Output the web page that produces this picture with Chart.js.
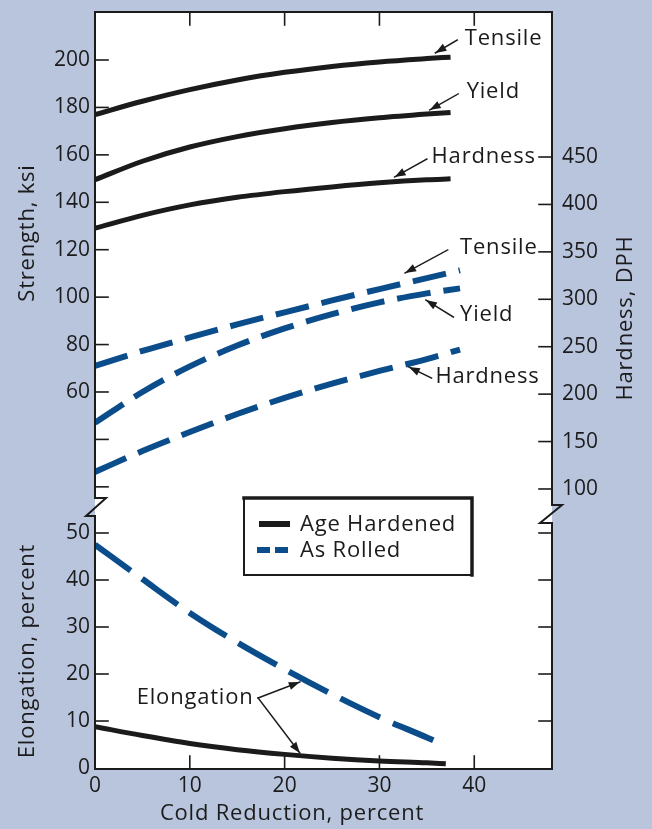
<!DOCTYPE html>
<html>
<head>
<meta charset="utf-8">
<title>Cold Reduction</title>
<script src="https://cdn.jsdelivr.net/npm/chart.js"></script>
<style>
  html, body { margin: 0; padding: 0; background: #b9c5dd; }
  #wrap { width: 652px; height: 829px; }
</style>
</head>
<body>
<div id="wrap"><canvas id="chart" width="652" height="829"></canvas></div>
<script>
// cold reduction, percent
const xAged   = [0, 5, 10, 15, 20, 25, 30, 35, 37.5];
const xRolled = [0, 5, 10, 15, 20, 25, 30, 35, 38.5];
const xElong  = [0, 5, 10, 15, 20, 25, 30, 35, 37];

// age hardened
const agedTensile  = [177, 182.6, 187.5, 191.6, 194.8, 197.3, 199.2, 200.6, 201.2];
const agedYield    = [149.5, 157.3, 163.3, 167.7, 171.0, 173.6, 175.6, 177.2, 177.9];
const agedHardness = [375, 388.5, 399.5, 407.5, 413.5, 418.5, 422.8, 426, 427];
const agedElong    = [8.8, 6.9, 5.2, 3.9, 2.9, 2.1, 1.5, 1.1, 0.9];

// as rolled
const rolledTensile  = [71, 77.3, 83, 88.5, 93.6, 98.6, 103.4, 108, 111.3];
const rolledYield    = [47, 60, 70.8, 79.6, 86.8, 92.8, 97.8, 101.6, 103.7];
const rolledHardness = [118, 140, 160, 179, 196, 211, 224.5, 237, 247];
const rolledElong    = [47.5, 40.2, 33.0, 26.7, 21, 15.7, 10.8, 6.5, 4.7];

// axes
const xTicks        = [0, 10, 20, 30, 40];
const strengthTicks = [20, 40, 60, 80, 100, 120, 140, 160, 180, 200];
const hardnessTicks = [100, 150, 200, 250, 300, 350, 400, 450];
const elongTicks    = [0, 10, 20, 30, 40, 50];
const seriesNames   = ['Age Hardened', 'As Rolled'];

// curve labels with arrows (data units of the named axis)
const notes = [
  { text: 'Tensile',  axis: 'yS', at: [39.0, 208.9], from: [38.2, 208.4], to: [[35.9, 203.0]] },
  { text: 'Yield',    axis: 'yS', at: [39.2, 186.5], from: [38.3, 185.7], to: [[35.3, 178.9]] },
  { text: 'Hardness', axis: 'yH', at: [35.5, 450.0], from: [35.0, 447.9], to: [[31.6, 428.9]] },
  { text: 'Tensile',  axis: 'yS', at: [38.5, 120.7], from: [37.2, 119.9], to: [[32.7, 110.2]] },
  { text: 'Yield',    axis: 'yS', at: [38.5, 92.5],  from: [37.8, 91.6],  to: [[34.9, 98.8]] },
  { text: 'Hardness', axis: 'yH', at: [35.9, 218.1], from: [35.5, 217.0], to: [[33.1, 228.6]] },
  { text: 'Elongation', axis: 'yE', at: [4.4, 14.9], from: [17.2, 14.9], to: [[21.6, 18.3], [21.6, 3.2]] }
];

const INK = '#1b1b1b';
const BLUE = '#0b4d8b';
const BG = '#b9c5dd';
const FONT = '"Open Sans", sans-serif';

function pts(xs, ys) { return xs.map((x, i) => ({ x: x, y: ys[i] })); }

function solid(label, data, axis) {
  return { label: label, data: data, yAxisID: axis, borderColor: INK, borderWidth: 5,
           borderCapStyle: 'butt', cubicInterpolationMode: 'monotone', pointRadius: 0, fill: false };
}
function dashed(label, data, axis, dash) {
  return { label: label, data: data, yAxisID: axis, borderColor: BLUE, borderWidth: 6,
           borderDash: dash, borderCapStyle: 'butt', cubicInterpolationMode: 'monotone', pointRadius: 0, fill: false };
}

const tickFont = { family: FONT, size: 21 };
function fixTicks(list) { return scale => { scale.ticks = list.map(v => ({ value: v })); }; }
// fixed axis sizes, and no extra room reserved for the end labels
function fitTo(w, h) {
  return s => {
    if (w !== null) s.width = w;
    if (h !== null) s.height = h;
    s.paddingTop = 0; s.paddingBottom = 0; s.paddingLeft = 0; s.paddingRight = 0;
  };
}

function line(ctx, pts) {
  ctx.beginPath();
  ctx.moveTo(pts[0][0], pts[0][1]);
  for (let i = 1; i < pts.length; i++) ctx.lineTo(pts[i][0], pts[i][1]);
  ctx.stroke();
}

function arrow(ctx, x0, y0, x1, y1) {
  line(ctx, [[x0, y0], [x1, y1]]);
  const a = Math.atan2(y1 - y0, x1 - x0), L = 11, W = 4;
  ctx.beginPath();
  ctx.moveTo(x1, y1);
  ctx.lineTo(x1 - L * Math.cos(a) + W * Math.sin(a), y1 - L * Math.sin(a) - W * Math.cos(a));
  ctx.lineTo(x1 - L * Math.cos(a) - W * Math.sin(a), y1 - L * Math.sin(a) + W * Math.cos(a));
  ctx.closePath();
  ctx.fill();
}

function vtext(ctx, text, x, y) {
  ctx.save();
  ctx.translate(x, y);
  ctx.rotate(-Math.PI / 2);
  ctx.textAlign = 'center';
  ctx.textBaseline = 'middle';
  ctx.fillText(text, 0, 0);
  ctx.restore();
}

const decor = {
  id: 'decor',
  beforeDraw(chart) {
    const { ctx, chartArea: ca } = chart;
    ctx.save();
    ctx.fillStyle = BG;
    ctx.fillRect(0, 0, chart.width, chart.height);
    ctx.fillStyle = '#fff';
    ctx.fillRect(ca.left, ca.top, ca.right - ca.left, ca.bottom - ca.top);
    ctx.restore();
  },
  afterDatasetsDraw(chart) {
    const { ctx, chartArea: ca, scales } = chart;
    const { x, yS, yH, yE } = scales;
    const L = ca.left, R = ca.right, T = ca.top, B = ca.bottom;
    const brk = yS.bottom;
    ctx.save();
    ctx.strokeStyle = INK;
    ctx.fillStyle = INK;
    ctx.lineCap = 'square';

    // frame with axis breaks
    ctx.lineWidth = 2;
    line(ctx, [[L, T], [R, T]]);
    line(ctx, [[L, B], [R, B]]);
    line(ctx, [[L, T], [L, brk - 9], [L + 11, brk - 9], [L - 9, brk + 9], [L, brk + 9], [L, B]]);
    line(ctx, [[R, T], [R, brk - 2], [R + 10, brk - 2], [R - 12, brk + 16], [R, brk + 16], [R, B]]);

    // inward tick marks
    ctx.lineWidth = 1.6;
    const tk = 13;
    xTicks.filter(v => v > 0).forEach(v => {
      const px = x.getPixelForValue(v);
      line(ctx, [[px, T], [px, T + tk]]);
      line(ctx, [[px, B], [px, B - tk]]);
    });
    strengthTicks.forEach(v => { const py = yS.getPixelForValue(v); line(ctx, [[L, py], [L + tk, py]]); });
    hardnessTicks.forEach(v => { const py = yH.getPixelForValue(v); line(ctx, [[R, py], [R - tk, py]]); });
    elongTicks.filter(v => v > 0).forEach(v => {
      const py = yE.getPixelForValue(v);
      line(ctx, [[L, py], [L + tk, py]]);
      line(ctx, [[R, py], [R - tk, py]]);
    });

    // axis titles
    ctx.font = '22px ' + FONT;
    ctx.letterSpacing = '0.8px';
    vtext(ctx, 'Strength, ksi', 28, 233);
    vtext(ctx, 'Elongation, percent', 28, 651);
    vtext(ctx, 'Hardness, DPH', 626, 318);
    ctx.textAlign = 'center';
    ctx.textBaseline = 'middle';
    ctx.fillText('Cold Reduction, percent', 292, 814);

    // curve labels
    ctx.lineWidth = 1.5;
    ctx.textAlign = 'left';
    notes.forEach(n => {
      const ys = scales[n.axis];
      ctx.fillText(n.text, x.getPixelForValue(n.at[0]), ys.getPixelForValue(n.at[1]));
      const fx = x.getPixelForValue(n.from[0]), fy = ys.getPixelForValue(n.from[1]);
      n.to.forEach(t => arrow(ctx, fx, fy, x.getPixelForValue(t[0]), ys.getPixelForValue(t[1])));
    });

    // legend
    const lx = L + 149, ly = T + 486, lw = 228, lh = 77;
    ctx.lineWidth = 2;
    line(ctx, [[lx, ly], [lx, ly + lh], [lx + lw, ly + lh]]);
    ctx.lineWidth = 3.5;
    line(ctx, [[lx, ly], [lx + lw, ly], [lx + lw, ly + lh]]);
    ctx.lineCap = 'butt';
    ctx.lineWidth = 6;
    line(ctx, [[lx + 15, ly + 26], [lx + 46, ly + 26]]);
    ctx.strokeStyle = BLUE;
    ctx.setLineDash([13, 5]);
    line(ctx, [[lx + 13, ly + 52], [lx + 46, ly + 52]]);
    ctx.setLineDash([]);
    ctx.fillStyle = INK;
    ctx.fillText(seriesNames[0], lx + 56, ly + 27);
    ctx.fillText(seriesNames[1], lx + 56, ly + 53);
    ctx.restore();
  }
};

new Chart(document.getElementById('chart'), {
  type: 'line',
  data: {
    datasets: [
      solid(seriesNames[0] + ' tensile', pts(xAged, agedTensile), 'yS'),
      solid(seriesNames[0] + ' yield', pts(xAged, agedYield), 'yS'),
      solid(seriesNames[0] + ' hardness', pts(xAged, agedHardness), 'yH'),
      solid(seriesNames[0] + ' elongation', pts(xElong, agedElong), 'yE'),
      dashed(seriesNames[1] + ' tensile', pts(xRolled, rolledTensile), 'yS', [34, 13]),
      dashed(seriesNames[1] + ' yield', pts(xRolled, rolledYield), 'yS', [34, 13]),
      dashed(seriesNames[1] + ' hardness', pts(xRolled, rolledHardness), 'yH', [34, 13]),
      dashed(seriesNames[1] + ' elongation', pts(xElong, rolledElong), 'yE', [44, 14])
    ]
  },
  options: {
    responsive: false,
    animation: false,
    devicePixelRatio: 1,
    layout: { padding: { top: 12, left: 0, right: 0, bottom: 0 } },
    plugins: { legend: { display: false }, tooltip: { enabled: false } },
    scales: {
      x: {
        type: 'linear', position: 'bottom', min: 0, max: 48.2,
        afterBuildTicks: fixTicks(xTicks),
        afterFit: fitTo(null, 60),
        grid: { display: false, drawTicks: false }, border: { display: false },
        ticks: { font: tickFont, color: INK, padding: 4, maxRotation: 0, autoSkip: false }
      },
      yS: {
        type: 'linear', position: 'left', stack: 'left', stackWeight: 495, weight: 2,
        min: 11.5, max: 220.24,
        afterBuildTicks: fixTicks(strengthTicks),
        afterFit: fitTo(95, null),
        grid: { display: false, drawTicks: false }, border: { display: false },
        ticks: { font: tickFont, color: INK, padding: 5, autoSkip: false,
                 callback: v => (v < 60 ? '' : v) }
      },
      yE: {
        type: 'linear', position: 'left', stack: 'left', stackWeight: 262, weight: 1,
        min: -0.21, max: 55.53,
        afterBuildTicks: fixTicks(elongTicks),
        afterFit: fitTo(95, null),
        grid: { display: false, drawTicks: false }, border: { display: false },
        ticks: { font: tickFont, color: INK, padding: 5, autoSkip: false }
      },
      yH: {
        type: 'linear', position: 'right', stack: 'right', stackWeight: 495, weight: 1,
        min: 81.0, max: 602.9,
        afterBuildTicks: fixTicks(hardnessTicks),
        afterFit: fitTo(100, null),
        grid: { display: false, drawTicks: false }, border: { display: false },
        ticks: { font: tickFont, color: INK, padding: 10, autoSkip: false }
      },
      yER: {
        type: 'linear', position: 'right', stack: 'right', stackWeight: 262, weight: 2,
        min: -0.21, max: 55.53,
        afterFit: fitTo(0, null),
        grid: { display: false, drawTicks: false }, border: { display: false },
        ticks: { display: false }
      }
    }
  },
  plugins: [decor]
});
</script>
</body>
</html>
